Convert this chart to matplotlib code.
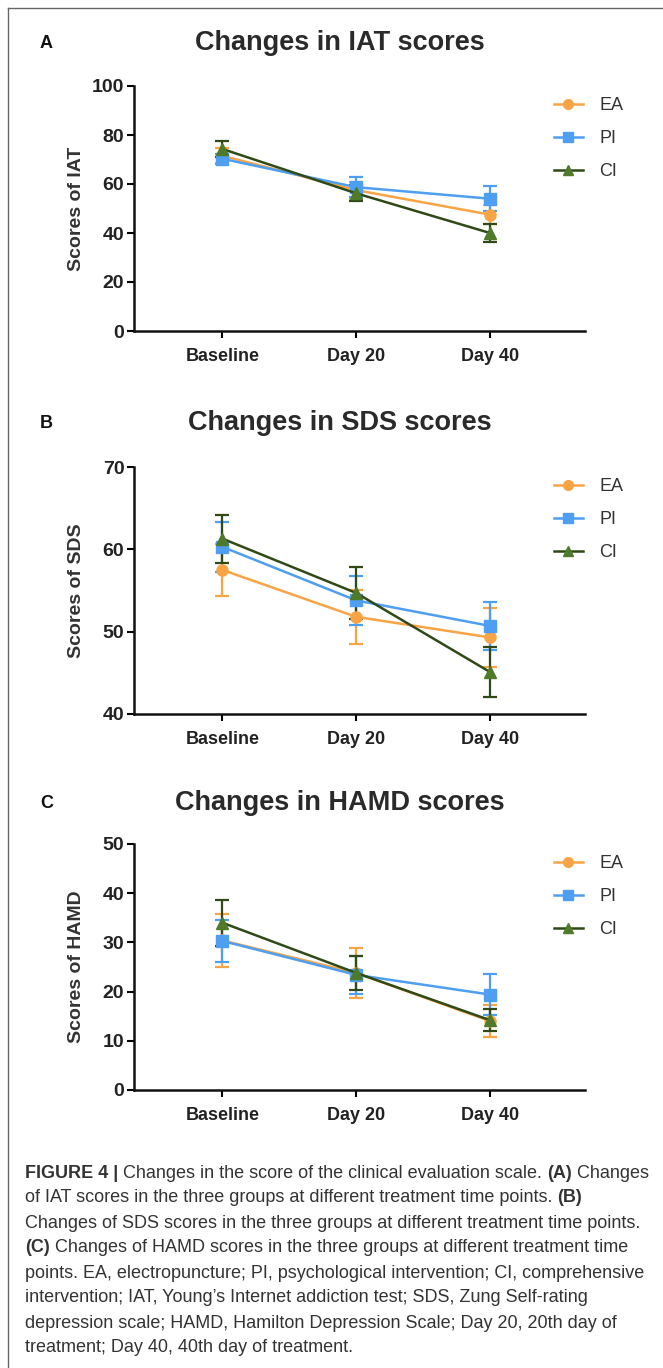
import matplotlib
matplotlib.use("Agg")
import matplotlib.pyplot as plt
from matplotlib import font_manager
from matplotlib.lines import Line2D
import numpy as np

# ---- data ----
timepoints = ["Baseline", "Day 20", "Day 40"]
groups = ["EA", "PI", "CI"]

iat_mean = {"EA": [71.5, 57.5, 47.5], "PI": [70.3, 58.7, 54.0], "CI": [74.3, 56.2, 40.0]}
iat_err = {"EA": [3.0, 3.5, 4.0], "PI": [2.0, 4.1, 5.0], "CI": [3.3, 3.3, 3.7]}

sds_mean = {"EA": [57.5, 51.8, 49.3], "PI": [60.3, 53.8, 50.7], "CI": [61.3, 54.7, 45.1]}
sds_err = {"EA": [3.2, 3.3, 3.6], "PI": [3.0, 3.0, 2.9], "CI": [2.9, 3.2, 3.0]}

hamd_mean = {"EA": [30.4, 23.8, 14.0], "PI": [30.3, 23.4, 19.4], "CI": [34.0, 23.8, 14.2]}
hamd_err = {"EA": [5.3, 5.0, 3.2], "PI": [4.3, 3.9, 4.2], "CI": [4.7, 3.4, 2.2]}

panels = [
    ("A", "Changes in IAT scores", "Scores of IAT", iat_mean, iat_err, (0, 100), [0, 20, 40, 60, 80, 100]),
    ("B", "Changes in SDS scores", "Scores of SDS", sds_mean, sds_err, (40, 70), [40, 50, 60, 70]),
    ("C", "Changes in HAMD scores", "Scores of HAMD", hamd_mean, hamd_err, (0, 50), [0, 10, 20, 30, 40, 50]),
]

caption_lines = [
    [("FIGURE 4 | ", "bold"), ("Changes in the score of the clinical evaluation scale. ", "normal"),
     ("(A)", "bold"), (" Changes", "normal")],
    [("of IAT scores in the three groups at different treatment time points. ", "normal"), ("(B)", "bold")],
    [("Changes of SDS scores in the three groups at different treatment time points.", "normal")],
    [("(C)", "bold"), (" Changes of HAMD scores in the three groups at different treatment time", "normal")],
    [("points. EA, electropuncture; PI, psychological intervention; CI, comprehensive", "normal")],
    [("intervention; IAT, Young\u2019s Internet addiction test; SDS, Zung Self-rating", "normal")],
    [("depression scale; HAMD, Hamilton Depression Scale; Day 20, 20th day of", "normal")],
    [("treatment; Day 40, 40th day of treatment.", "normal")],
]

colors = {"EA": "#F8A445", "PI": "#4E9EF2", "CI": "#2F4A17"}
marker_colors = {"EA": "#F8A445", "PI": "#4E9EF2", "CI": "#4E7A2A"}
markers = {"EA": "o", "PI": "s", "CI": "^"}

installed = {f.name for f in font_manager.fontManager.ttflist}
narrow = "Liberation Sans Narrow" if "Liberation Sans Narrow" in installed else "Liberation Sans"
plt.rcParams["font.family"] = ["Liberation Sans", "DejaVu Sans"]

W, H = 663, 1368
fig = plt.figure(figsize=(W / 100, H / 100), dpi=100)


def fx(px):
    return px / W


def fy(py):
    return 1 - py / H


# frame around the figure (top and left edge)
fig.add_artist(Line2D([fx(8), fx(663)], [fy(8), fy(8)], color="#666666", lw=1))
fig.add_artist(Line2D([fx(8), fx(8)], [fy(8), fy(1368)], color="#666666", lw=1))

# axes placement in pixels: (top, bottom, title row)
ax_left, ax_right = 134, 585
axes_rows = [(86, 331, 43), (467, 714, 423), (844, 1090, 803)]

for (letter, title, ylabel, means, errs, ylim, yticks), (top, bot, ty) in zip(panels, axes_rows):
    ax = fig.add_axes([fx(ax_left), fy(bot), fx(ax_right - ax_left), (bot - top) / H])
    x = np.arange(len(timepoints))
    for g in groups:
        ax.errorbar(x, means[g], yerr=errs[g], color=colors[g], ecolor=colors[g],
                    lw=1.8, elinewidth=1.6, capsize=5, capthick=1.6,
                    marker=markers[g], markersize=8, mfc=marker_colors[g], mec=marker_colors[g])

    ax.set_xlim(-0.66, 2.71)
    ax.set_ylim(*ylim)
    ax.set_yticks(yticks)
    ax.set_xticks(x)
    ax.set_xticklabels(timepoints)
    for lab in ax.get_xticklabels() + ax.get_yticklabels():
        lab.set_family(narrow)
        lab.set_fontweight("bold")
        lab.set_color("#222222")
    for lab in ax.get_xticklabels():
        lab.set_fontsize(13)
    for lab in ax.get_yticklabels():
        lab.set_fontsize(14)
    ax.tick_params(axis="both", width=1.5, length=5, direction="out", pad=2)
    ax.tick_params(axis="x", pad=7)
    for s in ["top", "right"]:
        ax.spines[s].set_visible(False)
    for s in ["left", "bottom"]:
        ax.spines[s].set_linewidth(1.8)
        ax.spines[s].set_color("#111111")

    ax.set_ylabel(ylabel, fontsize=14, fontweight="bold", color="#333333")
    ax.yaxis.set_label_coords(-0.108, 0.5)

    handles = [Line2D([], [], color=colors[g], lw=1.8, marker=markers[g], markersize=7,
                      mfc=marker_colors[g], mec=marker_colors[g]) for g in groups]
    leg = fig.legend(handles, groups, loc="upper left", bbox_to_anchor=(fx(554), fy(top + 11)),
                     frameon=False, fontsize=13, handlelength=1.6, handletextpad=0.9,
                     labelspacing=0.9, borderpad=0, borderaxespad=0)
    for t in leg.get_texts():
        t.set_color("#333333")
        t.set_family(narrow)

    fig.text(fx(340), fy(ty), title, ha="center", va="center", fontsize=19.5,
             fontweight="bold", color="#2a2a2a")
    fig.text(fx(40), fy(ty), letter, ha="left", va="center", fontsize=13,
             fontweight="bold", color="#111111")

# caption, drawn segment by segment so bold parts sit inline
renderer = fig.canvas.get_renderer()
cap_y0, cap_dy = 1173, 25
for i, line in enumerate(caption_lines):
    xpos = 25
    for txt, weight in line:
        t = fig.text(fx(xpos), fy(cap_y0 + i * cap_dy), txt, ha="left", va="center",
                     fontsize=13.0, fontweight=weight, family=narrow, color="#333333")
        bb = t.get_window_extent(renderer=renderer)
        xpos += bb.width

fig.savefig("out.png", dpi=100)
